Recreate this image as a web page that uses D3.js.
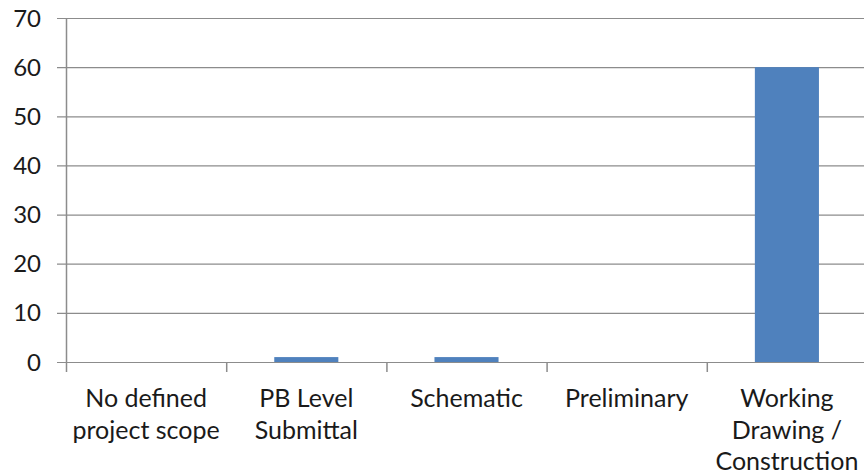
<!DOCTYPE html>
<html><head><meta charset="utf-8">
<script src="https://cdn.jsdelivr.net/npm/d3@7"></script>
<style>body{margin:0;background:#fff}svg{display:block}text{font-family:Lato,"Open Sans",sans-serif;fill:#1a1a1a}</style>
</head><body>
<svg id="c" width="864" height="476"></svg>
<script>
const categories = [["No defined","project scope"],["PB Level","Submittal"],["Schematic"],["Preliminary"],["Working","Drawing /","Construction"]];
const values = [0, 1, 1, 0, 60];
const yTicks = [0,10,20,30,40,50,60,70];

const svg = d3.select("#c");
const x0 = 66, x1 = 867, yTop = 18, yBot = 362;
const x = d3.scaleBand().domain(d3.range(categories.length)).range([x0, x1]).paddingInner(0).paddingOuter(0);
const y = d3.scaleLinear().domain([0,70]).range([yBot, yTop]);
const grid = "#8c8c8c";

// gridlines + y ticks
svg.append("g").selectAll("line").data(yTicks).join("line")
  .attr("x1", x0-9).attr("x2", 864).attr("y1", d=>y(d)+0.5).attr("y2", d=>y(d)+0.5)
  .attr("stroke", grid).attr("stroke-width", 1.2);
svg.append("g").selectAll("text").data(yTicks).join("text")
  .attr("x", 41).attr("y", d=>y(d)).attr("dy","0.36em").attr("text-anchor","end")
  .style("font-size","24px").text(d=>d);

// bars
const bw = x.bandwidth()*0.4;
svg.append("g").selectAll("rect").data(values).join("rect")
  .attr("x", (d,i)=>x(i)+x.bandwidth()/2-bw/2).attr("width", bw)
  .attr("y", d=>y(d)).attr("height", d=>yBot-y(d))
  .attr("fill","#4f81bd");

// axes lines
svg.append("line").attr("x1",x0+0.5).attr("x2",x0+0.5).attr("y1",yTop).attr("y2",yBot+10).attr("stroke",grid).attr("stroke-width",1.5);
svg.append("g").selectAll("line").data(d3.range(1,categories.length)).join("line")
  .attr("x1",i=>x(i)+0.5).attr("x2",i=>x(i)+0.5).attr("y1",yBot).attr("y2",yBot+10)
  .attr("stroke",grid).attr("stroke-width",1.5);

// category labels
const lab = svg.append("g").selectAll("text").data(categories).join("text")
  .attr("text-anchor","middle").style("font-size","25px")
  .attr("transform",(d,i)=>`translate(${x(i)+x.bandwidth()/2},${yBot+45})`);
lab.selectAll("tspan").data(d=>d).join("tspan").attr("x",0).attr("dy",(d,j)=>j?"1.26em":0).text(d=>d);
</script></body></html>
